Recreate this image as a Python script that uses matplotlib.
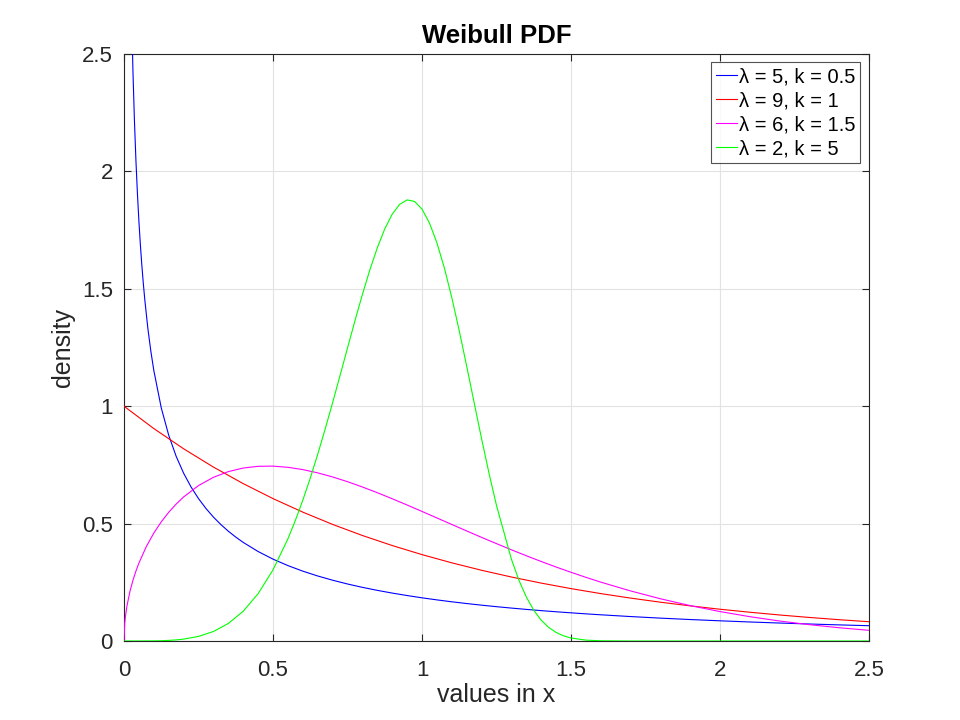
import matplotlib
matplotlib.use("Agg")
import matplotlib.pyplot as plt
import numpy as np

# blue: lambda=5, k=0.5
x_blue = [0.01, 0.015, 0.02, 0.025, 0.03, 0.035, 0.04, 0.045, 0.05, 0.055, 0.06, 0.065, 0.07,
          0.08, 0.09, 0.1, 0.125, 0.15, 0.175, 0.2, 0.225, 0.25, 0.275, 0.3, 0.325, 0.35,
          0.375, 0.4, 0.45, 0.5, 0.55, 0.6, 0.65, 0.7, 0.75, 0.8, 0.85, 0.9, 0.95, 1.0,
          1.05, 1.1, 1.15, 1.2, 1.25, 1.3, 1.35, 1.4, 1.45, 1.5, 1.55, 1.6, 1.7, 1.8, 1.9,
          2.0, 2.1, 2.2, 2.3, 2.4, 2.5]
blue = [4.524, 3.612, 3.069, 2.700, 2.428, 2.217, 2.047, 1.907, 1.788, 1.686, 1.598, 1.520,
        1.451, 1.332, 1.235, 1.1525, 0.9931, 0.8765, 0.7867, 0.7149, 0.6560, 0.6065, 0.5644,
        0.5279, 0.4960, 0.4677, 0.4426, 0.4200, 0.3811, 0.3487, 0.3212, 0.2975, 0.2769,
        0.2589, 0.2428, 0.2285, 0.2157, 0.2041, 0.1936, 0.1839, 0.1751, 0.1670, 0.1595,
        0.1526, 0.1462, 0.1402, 0.1346, 0.1294, 0.1245, 0.1200, 0.1156, 0.1116, 0.1041,
        0.0974, 0.0914, 0.0860, 0.0810, 0.0765, 0.0724, 0.0686, 0.0651]

# red: lambda=9, k=1
x_red = [0, 0.1, 0.2, 0.3, 0.4, 0.5, 0.6, 0.7, 0.8, 0.9, 1.0, 1.1, 1.2, 1.3, 1.4, 1.5,
         1.6, 1.7, 1.8, 1.9, 2.0, 2.1, 2.2, 2.3, 2.4, 2.5]
red = [1.0, 0.9048, 0.8187, 0.7408, 0.6703, 0.6065, 0.5488, 0.4966, 0.4493, 0.4066, 0.3679,
       0.3329, 0.3012, 0.2725, 0.2466, 0.2231, 0.2019, 0.1827, 0.1653, 0.1496, 0.1353,
       0.1225, 0.1108, 0.1003, 0.0907, 0.0821]

# magenta: lambda=6, k=1.5
x_magenta = [0, 0.0025, 0.005, 0.01, 0.02, 0.03, 0.04, 0.05, 0.075, 0.1, 0.125, 0.15, 0.175,
             0.2, 0.25, 0.3, 0.35, 0.4, 0.45, 0.5, 0.55, 0.6, 0.65, 0.7, 0.75, 0.8, 0.85,
             0.9, 0.95, 1.0, 1.05, 1.1, 1.15, 1.2, 1.25, 1.3, 1.35, 1.4, 1.45, 1.5, 1.55,
             1.6, 1.7, 1.8, 1.9, 2.0, 2.1, 2.2, 2.3, 2.4, 2.5]
magenta = [0.0, 0.0749, 0.1060, 0.1499, 0.2115, 0.2585, 0.2976, 0.3317, 0.4024, 0.4596, 0.5074,
           0.5482, 0.5832, 0.6134, 0.6619, 0.6971, 0.7214, 0.7366, 0.7440, 0.7448, 0.7398,
           0.7300, 0.7161, 0.6987, 0.6785, 0.6560, 0.6316, 0.6059, 0.5792, 0.5518, 0.5241,
           0.4963, 0.4687, 0.4413, 0.4146, 0.3885, 0.3631, 0.3386, 0.3151, 0.2926, 0.2711,
           0.2507, 0.2132, 0.1799, 0.1507, 0.1254, 0.1036, 0.0851, 0.0695, 0.0564, 0.0455]

# green: lambda=2, k=5
x_green = [0, 0.1, 0.125, 0.15, 0.175, 0.2, 0.25, 0.3, 0.35, 0.4, 0.45, 0.5, 0.55, 0.575, 0.6,
           0.625, 0.65, 0.675, 0.7, 0.725, 0.75, 0.775, 0.8, 0.825, 0.85, 0.875, 0.9, 0.925,
           0.95, 0.975, 1.0, 1.025, 1.05, 1.075, 1.1, 1.125, 1.15, 1.175, 1.2, 1.225, 1.25,
           1.3, 1.325, 1.35, 1.375, 1.4, 1.425, 1.45, 1.475, 1.5, 1.55, 1.6, 1.7, 2.5]
green = [0.0, 0.0005, 0.00122, 0.00253, 0.00469, 0.008, 0.0195, 0.0404, 0.0746, 0.1267, 0.2013,
         0.3029, 0.4351, 0.5133, 0.5995, 0.6935, 0.7948, 0.9023, 1.0148, 1.1307, 1.2478,
         1.3639, 1.4758, 1.5805, 1.6747, 1.7549, 1.8177, 1.8597, 1.8786, 1.8721, 1.8394,
         1.7803, 1.6962, 1.5889, 1.4627, 1.3212, 1.1703, 1.0150, 0.8612, 0.7137, 0.5772,
         0.3486, 0.2595, 0.1875, 0.1311, 0.0886, 0.0579, 0.0364, 0.0220, 0.0127, 0.00375,
         0.00091, 0.0, 0.0]

labels = ["λ = 5, k = 0.5", "λ = 9, k = 1", "λ = 6, k = 1.5", "λ = 2, k = 5"]
colors = ["#0000ff", "#ff0000", "#ff00ff", "#00ff00"]
ticks = [0, 0.5, 1, 1.5, 2, 2.5]
tick_labels = ["0", "0.5", "1", "1.5", "2", "2.5"]

plt.rcParams['font.family'] = ['Liberation Sans', 'DejaVu Sans']

fig = plt.figure(figsize=(9.6, 7.2), dpi=100)
ax = fig.add_axes([124/960, 1-641/720, (869-124)/960, (641-54)/720])

series = [(x_blue, blue), (x_red, red), (x_magenta, magenta), (x_green, green)]
for (xs, ys), c, lab in zip(series, colors, labels):
    ax.plot(xs, ys, color=c, lw=0.8, label=lab, zorder=3)

ax.set_xlim(0, 2.5)
ax.set_ylim(0, 2.5)
ax.set_xticks(ticks)
ax.set_xticklabels(tick_labels)
ax.set_yticks(ticks)
ax.set_yticklabels(tick_labels)
ax.grid(True, color="#e2e2e2", lw=0.8, zorder=0)
ax.set_axisbelow(True)
ax.tick_params(direction="in", length=5, width=0.8, labelsize=16,
               top=True, right=True, colors="#262626")
ax.tick_params(axis="x", pad=14)
ax.tick_params(axis="y", pad=8)
for s in ax.spines.values():
    s.set_color("#262626")
    s.set_linewidth(0.8)

ax.set_xlabel("values in x", fontsize=18, color="#262626", labelpad=1)
ax.set_ylabel("density", fontsize=18, color="#262626", labelpad=5)
ax.set_title("Weibull PDF", fontsize=18.5, fontweight="bold", pad=8)

leg = ax.legend(loc="upper right", bbox_to_anchor=(0.988, 0.986), borderaxespad=0,
                fontsize=14.5, frameon=True, fancybox=False,
                borderpad=0.25, labelspacing=0.25, handlelength=1.0, handletextpad=0.1)
leg.get_frame().set_edgecolor("#262626")
leg.get_frame().set_linewidth(0.8)

fig.savefig("out.png", dpi=100)
